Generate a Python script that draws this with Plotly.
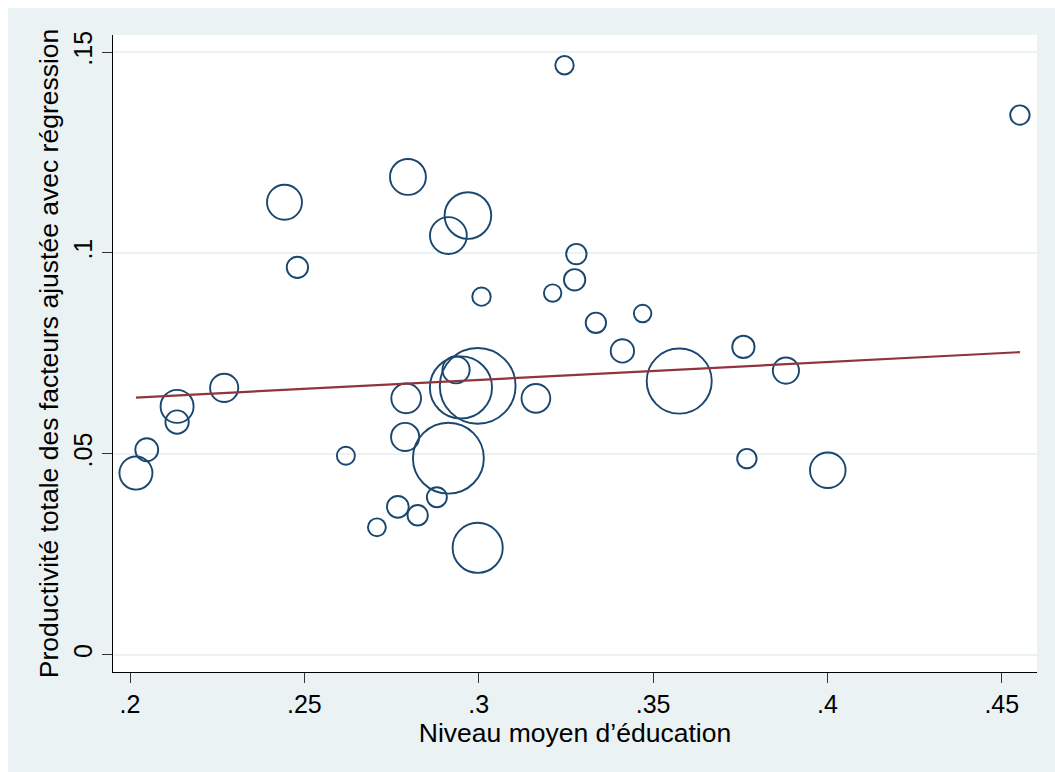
import plotly.graph_objects as go

# Niveau moyen d'éducation (x), productivité totale des facteurs ajustée (y), poids de chaque observation
education = [0.3246, 0.4552, 0.2797, 0.2443, 0.2969, 0.2913, 0.2480, 0.3280, 0.3275,
             0.3008, 0.3212, 0.3470, 0.3336, 0.3412, 0.3759, 0.3881, 0.2935, 0.3575,
             0.2997, 0.2949, 0.2270, 0.2135, 0.3164, 0.2792, 0.2135, 0.2048, 0.2017,
             0.2789, 0.2619, 0.2913, 0.3769, 0.4001, 0.2880, 0.2768, 0.2825, 0.2708,
             0.2997]
productivite = [0.1467, 0.1343, 0.1189, 0.1126, 0.1093, 0.1043, 0.0964, 0.0997, 0.0933,
                0.0891, 0.0900, 0.0849, 0.0826, 0.0756, 0.0766, 0.0707, 0.0709, 0.0681,
                0.0669, 0.0665, 0.0664, 0.0618, 0.0638, 0.0638, 0.0579, 0.0510, 0.0452,
                0.0542, 0.0495, 0.0489, 0.0488, 0.0459, 0.0392, 0.0368, 0.0347, 0.0317,
                0.0266]
poids = [9.0, 10.0, 34.2, 32.4, 57.6, 36.1, 12.1, 11.0, 12.1,
         9.0, 8.1, 8.1, 11.0, 14.4, 13.2, 18.2, 19.6, 112.2,
         152.1, 102.4, 21.0, 28.9, 21.9, 23.4, 14.4, 13.9, 28.9,
         21.0, 8.6, 133.2, 10.0, 33.5, 10.6, 12.5, 11.0, 8.5,
         66.6]

# Droite de régression (valeurs aux extrémités de l'échantillon)
fit_x = [0.2017, 0.4552]
fit_y = [0.0640, 0.0753]

x_tick_vals = [0.2, 0.25, 0.3, 0.35, 0.4, 0.45]
x_tick_text = [".2", ".25", ".3", ".35", ".4", ".45"]
y_tick_vals = [0, 0.05, 0.1, 0.15]
y_tick_text = ["0", ".05", ".1", ".15"]

NAVY = "#1A476F"
MAROON = "#90353B"
BG = "#EAF2F3"
FONT = "Liberation Sans, Arial, sans-serif"

fig = go.Figure()
fig.add_trace(go.Scatter(
    x=education, y=productivite, mode="markers",
    marker=dict(size=poids, sizemode="area", sizeref=0.053, opacity=1,
                color="rgba(0,0,0,0)", line=dict(color=NAVY, width=1.9)),
    hoverinfo="x+y", showlegend=False,
))
fig.add_trace(go.Scatter(
    x=fit_x, y=fit_y, mode="lines",
    line=dict(color=MAROON, width=2.2), showlegend=False,
))

W, H = 1055, 772
ml, mr, mt, mb = 113, 18, 35, 100
pw, ph = W - ml - mr, H - mt - mb

def px_x(p):
    return (p - ml) / pw

def px_y(p):
    return (H - mb - p) / ph

# thin white frame on the top and left edges of the page
shapes = [
    dict(type="rect", xref="paper", yref="paper", layer="above",
         x0=px_x(0), x1=px_x(8), y0=px_y(H), y1=px_y(0),
         fillcolor="white", line=dict(width=0)),
    dict(type="rect", xref="paper", yref="paper", layer="above",
         x0=px_x(0), x1=px_x(W), y0=px_y(8), y1=px_y(0),
         fillcolor="white", line=dict(width=0)),
]

fig.update_layout(
    width=W, height=H,
    margin=dict(l=ml, r=mr, t=mt, b=mb, pad=0),
    paper_bgcolor=BG, plot_bgcolor="white",
    font=dict(family=FONT, color="black"),
    shapes=shapes,
    xaxis=dict(
        range=[0.19512, 0.4601], tickvals=x_tick_vals, ticktext=x_tick_text,
        ticks="outside", ticklen=10, tickwidth=1.3, tickcolor="#333333",
        showline=True, linecolor="black", linewidth=1.3,
        showgrid=False, zeroline=False,
        tickfont=dict(size=25),
        title=dict(text="Niveau moyen d’éducation", font=dict(size=26.5), standoff=3),
    ),
    yaxis=dict(
        range=[-0.00431, 0.15423], tickvals=y_tick_vals, ticktext=y_tick_text,
        ticks="outside", ticklen=10, tickwidth=1.3, tickcolor="#333333",
        tickangle=-90,
        showline=True, linecolor="black", linewidth=1.3,
        showgrid=True, gridcolor=BG, gridwidth=2, zeroline=False,
        tickfont=dict(size=25),
        title=dict(text="Productivité totale des facteurs ajustée avec régression",
                   font=dict(size=26.5), standoff=2),
    ),
)

fig.write_html("out.html")
